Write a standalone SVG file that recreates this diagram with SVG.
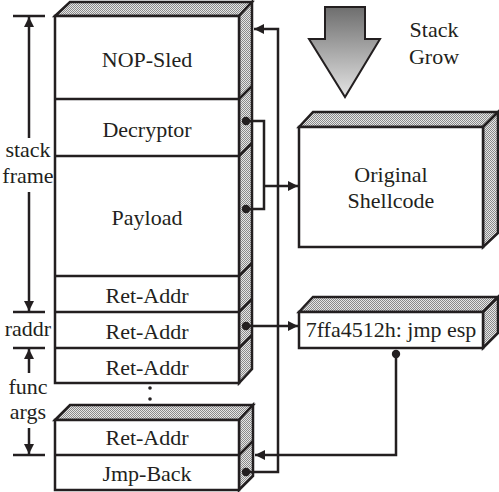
<svg xmlns="http://www.w3.org/2000/svg" width="499" height="492" viewBox="0 0 499 492">
<defs>
<pattern id="dots" width="2" height="2" patternUnits="userSpaceOnUse">
<rect width="2" height="2" fill="#e6e6e6"/>
<rect width="1" height="1" fill="#8a8a8a"/>
<rect x="1" y="1" width="1" height="1" fill="#8a8a8a"/>
</pattern>
<linearGradient id="grad" x1="0" y1="0" x2="0" y2="1">
<stop offset="0" stop-color="#6e6e6e"/>
<stop offset="1" stop-color="#e4e4e4"/>
</linearGradient>
<marker id="ah" viewBox="0 0 10 10" refX="10" refY="5" markerWidth="4" markerHeight="4" orient="auto" markerUnits="strokeWidth">
<path d="M0,0 L10,5 L0,10 Z" fill="#231f20"/>
</marker>
</defs>
<style>
.ln{stroke:#231f20;stroke-width:2.5;fill:none}
.face{fill:#fff;stroke:#231f20;stroke-width:2.5}
.shade{fill:url(#dots);stroke:#231f20;stroke-width:2.5;stroke-linejoin:miter}
.t{font-family:"Liberation Serif","Times New Roman",serif;font-size:22px;fill:#231f20;text-anchor:middle}
.dot{fill:#231f20}
</style>
<rect width="499" height="492" fill="#fff"/>

<g id="stack-upper">
<polygon class="shade" points="55,16 70,2 252,2 239,16"/>
<polygon class="shade" points="239,16 252,2 252,369 239,383"/>
<rect class="face" x="55" y="16" width="184" height="367"/>
<line class="ln" x1="55" y1="99" x2="239" y2="99"/>
<line class="ln" x1="55" y1="156" x2="239" y2="156"/>
<line class="ln" x1="55" y1="276" x2="239" y2="276"/>
<line class="ln" x1="55" y1="312" x2="239" y2="312"/>
<line class="ln" x1="55" y1="348" x2="239" y2="348"/>
<line class="ln" x1="239" y1="99" x2="252" y2="86"/>
<line class="ln" x1="239" y1="156" x2="252" y2="143"/>
<line class="ln" x1="239" y1="276" x2="252" y2="263"/>
<line class="ln" x1="239" y1="312" x2="252" y2="299"/>
<line class="ln" x1="239" y1="348" x2="252" y2="335"/>
<text class="t" x="147" y="67">NOP-Sled</text>
<text class="t" x="147" y="137">Decryptor</text>
<text class="t" x="147" y="225">Payload</text>
<text class="t" x="147" y="303">Ret-Addr</text>
<text class="t" x="147" y="339">Ret-Addr</text>
<text class="t" x="147" y="375">Ret-Addr</text>
</g>

<g id="ellipsis">
<circle class="dot" cx="150" cy="388" r="1.8"/>
<circle class="dot" cx="150" cy="399" r="1.8"/>
<circle class="dot" cx="150" cy="409" r="1.8"/>
</g>

<g id="stack-lower">
<polygon class="shade" points="55,420 70,405 253,405 239,420"/>
<polygon class="shade" points="239,420 253,405 253,476 239,490"/>
<rect class="face" x="55" y="420" width="184" height="70"/>
<line class="ln" x1="55" y1="455" x2="239" y2="455"/>
<line class="ln" x1="239" y1="455" x2="253" y2="441"/>
<text class="t" x="147" y="445">Ret-Addr</text>
<text class="t" x="147" y="481">Jmp-Back</text>
</g>

<g id="shellcode">
<polygon class="shade" points="299,127 313,112 498,112 483,127"/>
<polygon class="shade" points="483,127 498,112 498,233 483,247"/>
<rect class="face" x="299" y="127" width="184" height="120"/>
<text class="t" x="391" y="182">Original</text>
<text class="t" x="391" y="208">Shellcode</text>
</g>

<g id="jmpesp">
<polygon class="shade" points="299,312 313,297 498,297 483,312"/>
<polygon class="shade" points="483,312 498,297 498,333 483,348"/>
<rect class="face" x="299" y="312" width="184" height="36"/>
<text class="t" x="391" y="337">7ffa4512h: jmp esp</text>
</g>

<g id="stack-grow">
<polygon points="325,7 365,7 365,39 380,39 345,97 309,39 325,39" fill="url(#grad)" stroke="#231f20" stroke-width="2"/>
<text class="t" x="434" y="37">Stack</text>
<text class="t" x="434" y="64">Grow</text>
</g>

<g id="annotations">
<line class="ln" x1="13" y1="16" x2="45" y2="16"/>
<line class="ln" x1="13" y1="312" x2="45" y2="312"/>
<line class="ln" x1="13" y1="348" x2="45" y2="348"/>
<line class="ln" x1="13" y1="455" x2="45" y2="455"/>
<line class="ln" x1="29" y1="138" x2="29" y2="17" marker-end="url(#ah)"/>
<line class="ln" x1="29" y1="192" x2="29" y2="311" marker-end="url(#ah)"/>
<line class="ln" x1="29" y1="373" x2="29" y2="349" marker-end="url(#ah)"/>
<line class="ln" x1="29" y1="428" x2="29" y2="454" marker-end="url(#ah)"/>
<text class="t" x="28" y="157">stack</text>
<text class="t" x="28" y="183">frame</text>
<text class="t" x="28" y="336">raddr</text>
<text class="t" x="28" y="394">func</text>
<text class="t" x="28" y="419">args</text>
</g>

<g id="connectors">
<polyline class="ln" points="246,472 278,472 278,29 254,29" marker-end="url(#ah)"/>
<polyline class="ln" points="246,121 264,121 264,209 246,209"/>
<line class="ln" x1="264" y1="186" x2="298" y2="186" marker-end="url(#ah)"/>
<line class="ln" x1="246" y1="326" x2="298" y2="326" marker-end="url(#ah)"/>
<polyline class="ln" points="396,354 396,455 255,455" marker-end="url(#ah)"/>
<circle class="dot" cx="246" cy="121" r="4.2"/>
<circle class="dot" cx="246" cy="209" r="4.2"/>
<circle class="dot" cx="246" cy="326" r="4.2"/>
<circle class="dot" cx="246" cy="472" r="4.2"/>
<circle class="dot" cx="396" cy="354" r="4.2"/>
</g>
</svg>
